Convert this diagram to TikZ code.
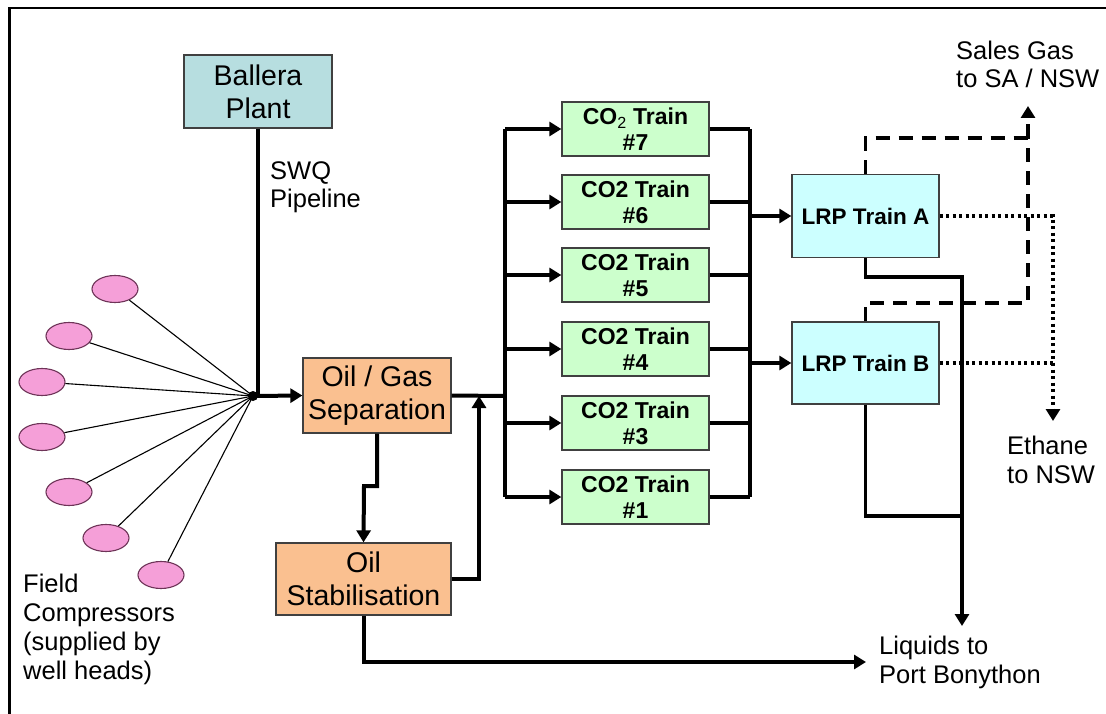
\documentclass[tikz,border=0pt]{standalone}
\usepackage{fontspec}
\setmainfont{Liberation Sans}
\usetikzlibrary{arrows.meta,shapes.geometric}
\definecolor{ballerafill}{HTML}{B7DEE0}
\definecolor{sepfill}{HTML}{FAC090}
\definecolor{cofill}{HTML}{CCFFCC}
\definecolor{lrpfill}{HTML}{CCFFFF}
\definecolor{pinkfill}{HTML}{F59FD8}
\definecolor{pinkedge}{HTML}{6E3458}
\begin{document}
\begin{tikzpicture}[x=1pt,y=-1pt,
  box/.style={draw=black!75, line width=1.3pt, inner sep=0pt, align=center,
    font=\fontsize{28.5}{33}\selectfont},
  cobox/.style={draw=black!75, line width=1.3pt, inner sep=0pt, align=center,
    fill=cofill, minimum width=147pt, minimum height=54pt,
    font=\fontsize{23}{26}\selectfont\bfseries},
  lrpbox/.style={draw=black!75, line width=1.3pt, inner sep=0pt, align=center,
    fill=lrpfill, minimum width=147pt, minimum height=82pt,
    font=\fontsize{22.5}{26}\selectfont\bfseries},
  well/.style={ellipse, draw=pinkedge, line width=1.1pt, fill=pinkfill,
    minimum width=46pt, minimum height=27pt, inner sep=0pt},
  label/.style={anchor=base west, inner sep=0pt, align=left,
    font=\fontsize{25.5}{28.8}\selectfont},
  tip/.style={-{Triangle[length=12pt,width=14pt]}},
  flow/.style={line width=4pt},
  flowarrow/.style={line width=4pt, tip},
  fan/.style={line width=1.1pt},
  gasline/.style={line width=3.6pt, dash pattern=on 14pt off 9pt},
  ethline/.style={line width=3.2pt, dash pattern=on 3.2pt off 3.3pt}
]
\useasboundingbox (0,0) rectangle (1106,714);
% frame
\draw[line width=2.5pt] (9.5,714) -- (9.5,8) -- (1106,8);

% nodes
\node[box, fill=ballerafill, minimum width=148pt, minimum height=73pt] (ballera) at (258,91.5) {Ballera\\Plant};
\node[box, fill=sepfill, minimum width=148pt, minimum height=75pt] (sep) at (377,395.5) {Oil / Gas\\Separation};
\node[box, fill=sepfill, minimum width=175pt, minimum height=72pt] (stab) at (363.5,579) {Oil\\Stabilisation};

\node[cobox] (t7) at (635.5,129) {CO$_{\mathrm{2}}$ Train\\\#7};
\node[cobox] (t6) at (635.5,202) {CO2 Train\\\#6};
\node[cobox] (t5) at (635.5,275) {CO2 Train\\\#5};
\node[cobox] (t4) at (635.5,349) {CO2 Train\\\#4};
\node[cobox] (t3) at (635.5,423) {CO2 Train\\\#3};
\node[cobox] (t1) at (635.5,497) {CO2 Train\\\#1};

\node[lrpbox, minimum height=83pt] (lrpa) at (865.5,216) {LRP Train A};
\node[lrpbox] (lrpb) at (865.5,363) {LRP Train B};

\node[well] (w1) at (115,289) {};
\node[well] (w2) at (69,336) {};
\node[well] (w3) at (42,382) {};
\node[well] (w4) at (42,437) {};
\node[well] (w5) at (69,492) {};
\node[well] (w6) at (106,538) {};
\node[well] (w7) at (161,575) {};

\node[circle, fill=black, inner sep=0pt, minimum size=10pt] (junc) at (253,396) {};

% labels (anchored at the baseline of their last line)
\node[label] (swq) at (270,208) {SWQ\\Pipeline};
\node[label] (field) at (23,679) {Field\\Compressors\\(supplied by\\well heads)};
\node[label] (sales) at (956,88) {Sales Gas\\to SA / NSW};
\node[label] (ethane) at (1007,483) {Ethane\\to NSW};
\node[label] (liquids) at (879,683) {Liquids to\\Port Bonython};

% coordinates
\coordinate (jog) at (364,486);
\coordinate (merge) at (479,396);
\coordinate (busl) at (505,396);
\coordinate (busr) at (750,216);
\coordinate (gasjoin) at (1028,138);
\coordinate (gasjoinb) at (1028,303);
\coordinate (gasout) at (1028,106);
\coordinate (ethjoin) at (1053,363);
\coordinate (ethout) at (1053,421);
\coordinate (liqjoinb) at (962,516);
\coordinate (liqout) at (962,626);
\coordinate (stabout) at (866,662);

% fan
\foreach \w in {w1,w2,w3,w4,w5,w6,w7} \draw[fan] (\w) -- (junc.center);

% main flows
\draw[flow] (ballera.south) -- (ballera.south |- junc);
\draw[flowarrow] (junc.center) -- (sep.west);
\draw[flowarrow] (sep.south) |- (jog) -- (stab.north);
\draw[flowarrow] (stab.east) -| (merge);
\draw[flow] (sep.east) -- (busl);
\draw[flow] (busl |- t7.west) -- (busl |- t1.west);
\foreach \t in {t7,t6,t5,t4,t3,t1} {
  \draw[flowarrow] (busl |- \t.west) -- (\t.west);
  \draw[flow] (\t.east) -- (busr |- \t.east);
}
\draw[flow] (busr |- t7.east) -- (busr |- t1.east);
\draw[flowarrow] (busr |- lrpa.west) -- (lrpa.west);
\draw[flowarrow] (busr |- lrpb.west) -- (lrpb.west);

% sales gas (dashed)
\draw[gasline] (lrpa.north) |- (gasjoin);
\draw[gasline] (lrpb.north) |- (gasjoinb) -- (gasjoin);
\draw[gasline, tip] (gasjoin) -- (gasout);

% ethane (dotted)
\draw[ethline] (lrpa.east) -| (ethjoin);
\draw[ethline] (lrpb.east) -- (ethjoin);
\draw[ethline, tip] (ethjoin) -- (ethout);

% liquids
\draw[line width=3.4pt] (lrpa.south) |- (liqjoinb |- 0,277) -- (liqjoinb);
\draw[line width=3.4pt] (lrpb.south) |- (liqjoinb);
\draw[line width=3.4pt, tip] (liqjoinb) -- (liqout);
\draw[flowarrow] (stab.south) |- (stabout);
\end{tikzpicture}
\end{document}
